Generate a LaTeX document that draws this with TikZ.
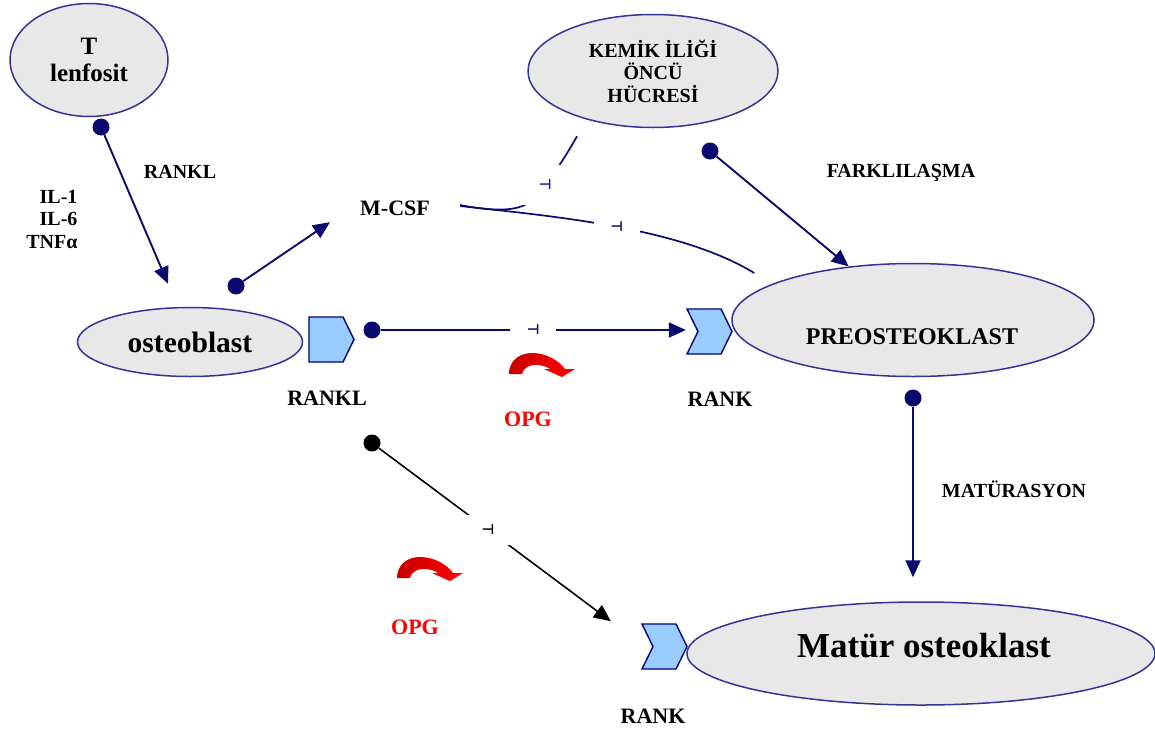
\documentclass[tikz,border=0pt]{standalone}
\usepackage{fontspec}
\setmainfont{Liberation Serif}
\newfontfamily\symfont{DejaVu Sans}
\usetikzlibrary{arrows.meta,shapes.geometric,shapes.symbols,calc}
\definecolor{navyline}{RGB}{10,10,110}
\definecolor{cellborder}{RGB}{51,51,153}
\definecolor{cellfill}{RGB}{232,232,232}
\definecolor{recfill}{RGB}{153,204,255}
\definecolor{recborder}{RGB}{0,0,128}
\definecolor{opgred}{RGB}{255,0,0}
\definecolor{opgdark}{RGB}{200,0,0}
\definecolor{markblue}{RGB}{20,20,200}

\tikzset{
  opgarrow/.pic={
    \shade[left color=opgdark,right color=opgred]
      (0,0) .. controls (0,-13) and (10,-21) .. (23,-21)
      .. controls (38,-21) and (50,-13) .. (56,-5)
      -- (66,-5) -- (53,3) -- (35,-5) -- (41,-5)
      .. controls (37,-8) and (32,-9) .. (26,-9)
      .. controls (19,-9) and (14,-5) .. (13,0) -- cycle;
  }
}

\begin{document}
\begin{tikzpicture}[x=1pt,y=-1pt,
  cell/.style={ellipse,draw=cellborder,line width=1.5pt,fill=cellfill,inner sep=0pt,align=center},
  chev/.style={signal,signal to=east,draw=recborder,line width=1.4pt,fill=recfill,minimum width=45pt,minimum height=45pt,inner sep=0pt,signal pointer angle=128},
  dot/.style={circle,fill=navyline,inner sep=0pt,minimum size=17pt},
  lbl/.style={font=\bfseries\fontsize{20}{22.5}\selectfont,align=center},
  biglbl/.style={font=\bfseries\fontsize{22}{25}\selectfont},
  arrow/.style={-{Triangle[length=17pt,width=15pt]},line width=1.9pt,navyline},
  link/.style={line width=1.7pt,navyline},
  gapmark/.style={fill=white,inner sep=0pt,minimum width=46pt,minimum height=30pt,font=\symfont\bfseries\fontsize{14}{14}\selectfont}
]
\useasboundingbox (0,0) rectangle (1155,731);

% cells
\node[cell,minimum width=158pt,minimum height=113pt,font=\bfseries\fontsize{25}{27}\selectfont] (tlen) at (89,60) {T\\lenfosit};
\node[cell,minimum width=250pt,minimum height=113pt,font=\bfseries\fontsize{20}{22.5}\selectfont] (kemik) at (653,71) {KEMİK İLİĞİ\\ÖNCÜ\\HÜCRESİ};
\node[cell,minimum width=225pt,minimum height=69pt,font=\bfseries\fontsize{29.5}{32}\selectfont] (osteo) at (190,342) {osteoblast};
\node[cell,minimum width=362pt,minimum height=113pt] (preost) at (913,320) {};
\node[font=\bfseries\fontsize{24}{27}\selectfont] (preosttxt) at (912,337) {PREOSTEOKLAST};
\node[cell,minimum width=468pt,minimum height=103pt] (matur) at (921,653.5) {};
\node[font=\bfseries\fontsize{35}{38}\selectfont] (maturtxt) at (924,646) {Matür osteoklast};

% receptors
\node[chev] (rankl) at (326,339.5) {};
\node[chev,signal from=west] (rank1) at (709.5,331.5) {};
\node[chev,signal from=west] (rank2) at (664.5,646.5) {};

% dots
\node[dot] (dotT) at (101,127) {};
\node[dot] (dotO) at (236,286) {};
\node[dot] (dotR) at (372,330) {};
\node[dot,fill=black] (dotB) at (372,443) {};
\node[dot] (dotK) at (710,151) {};
\node[dot] (dotP) at (913,398) {};

% labels
\node[lbl] (ranklT) at (180,172) {RANKL};
\node[lbl,align=right,anchor=east] (cyto) at (81,219) {IL-1\\IL-6\\TNFα};
\node[biglbl,inner xsep=30pt,minimum height=28pt] (mcsf) at (395,208) {M-CSF};
\node[lbl] (fark) at (901,173) {FARKLILAŞMA};
\node[lbl] (matu) at (1014,489) {MATÜRASYON};
\node[biglbl] (rankllbl) at (327,398) {RANKL};
\node[biglbl] (rank1lbl) at (720,399) {RANK};
\node[biglbl] (rank2lbl) at (653,716) {RANK};
\node[biglbl,text=opgred] (opg1) at (528,419) {OPG};
\node[biglbl,text=opgred] (opg2) at (415,627) {OPG};

% connectors
\draw[arrow] (dotT) -- ([xshift=-22pt,yshift=23pt]osteo.north);
\draw[arrow] (dotO) -- (mcsf.south west);
\draw[arrow] (dotK) -- (preost);
\draw[arrow] (dotP) -- ($(dotP |- matur.north)+(0,-24)$);
\draw[arrow] (dotR) -- node[gapmark]{⊣} (dotR -| rank1.north west);
\draw[arrow,black,line width=1.6pt] (dotB) -- node[gapmark,pos=0.47]{⊣} ([xshift=-30pt,yshift=2pt]rank2.north west);
\draw[link] ([yshift=3pt]mcsf.east) .. controls (500,213) and (522,210) .. (532,200)
  .. controls (545,188) and (565,158) .. node[gapmark,pos=0.3,minimum height=40pt,text=markblue]{⊣} ([xshift=-76pt,yshift=-8pt]kemik.south);
\draw[link] ([yshift=2pt]mcsf.east) .. controls (560,217) and (680,228) .. node[gapmark]{⊣} ([xshift=23pt,yshift=47pt]preost.west);

% OPG
\pic at (509,374) {opgarrow};
\pic at (397,578) {opgarrow};
\end{tikzpicture}
\end{document}
